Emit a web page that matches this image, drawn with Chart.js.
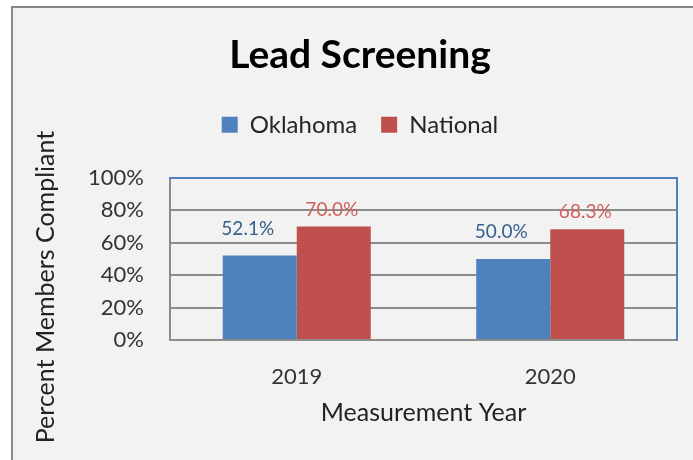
<!DOCTYPE html>
<html>
<head>
<meta charset="utf-8">
<script src="https://cdn.jsdelivr.net/npm/chart.js@4"></script>
<style>
  html, body { margin: 0; padding: 0; background: #fff; overflow: hidden; }
  #frame { position: absolute; left: 11px; top: 6px; width: 720px; height: 480px; border: 2px solid #898989; background: #f2f2f2; }
  #wrap { position: absolute; left: 0; top: 0; width: 693px; height: 460px; }
</style>
</head>
<body>
<div id="frame"></div>
<div id="wrap"><canvas id="leadChart"></canvas></div>
<script>
var years = ['2019', '2020'];
var oklahomaValues = [52.1, 50.0];
var nationalValues = [70.0, 68.3];
var yTicks = [0, 20, 40, 60, 80, 100];

var FONT = 'Lato, "Open Sans", sans-serif';

// value labels above bars, placed from the bar elements
var barLabels = {
  id: 'barLabels',
  afterDatasetsDraw: function(chart, args, opts) {
    var ctx = chart.ctx;
    ctx.save();
    ctx.font = '19px ' + FONT;
    ctx.textAlign = 'center';
    ctx.textBaseline = 'middle';
    chart.data.datasets.forEach(function(ds, i) {
      var meta = chart.getDatasetMeta(i);
      var st = opts.styles[i];
      ctx.fillStyle = st.color;
      meta.data.forEach(function(bar, j) {
        ctx.fillText(ds.data[j].toFixed(1) + '%', bar.x + st.dx, bar.y - st.dy);
      });
    });
    ctx.restore();
  }
};

// y axis title, centred lower than the plot like the original
var yTitle = {
  id: 'yTitle',
  afterDraw: function(chart, args, opts) {
    var ctx = chart.ctx;
    ctx.save();
    ctx.translate(opts.x, opts.y);
    ctx.rotate(-Math.PI / 2);
    ctx.font = '25px ' + FONT;
    ctx.fillStyle = '#222';
    ctx.textAlign = 'center';
    ctx.textBaseline = 'middle';
    ctx.fillText(opts.text, 0, 0);
    ctx.restore();
  }
};

new Chart(document.getElementById('leadChart').getContext('2d'), {
  type: 'bar',
  data: {
    labels: years,
    datasets: [
      { label: 'Oklahoma', data: oklahomaValues, backgroundColor: '#4f81bd', borderWidth: 0 },
      { label: 'National', data: nationalValues, backgroundColor: '#c0504d', borderWidth: 0 }
    ]
  },
  plugins: [barLabels, yTitle],
  options: {
    responsive: true,
    maintainAspectRatio: false,
    animation: false,
    categoryPercentage: 0.584,
    barPercentage: 1,
    layout: { padding: { left: 27, right: 0, top: 0, bottom: 0 } },
    plugins: {
      title: {
        display: true,
        text: 'Lead Screening',
        color: '#000',
        font: { family: FONT, size: 39, weight: 'bold' },
        padding: { top: 32, bottom: 10 }
      },
      legend: {
        display: true,
        position: 'top',
        labels: {
          color: '#262626',
          font: { family: FONT, size: 24 },
          boxWidth: 16,
          boxHeight: 16,
          padding: 24
        }
      },
      tooltip: { enabled: false },
      barLabels: {
        styles: [
          { color: '#36618f', dx: -12, dy: 27 },
          { color: '#d0605c', dx: -2, dy: 17 }
        ]
      },
      yTitle: { text: 'Percent Members Compliant', x: 46, y: 287 }
    },
    scales: {
      x: {
        type: 'category',
        position: 'bottom',
        grid: { display: false, drawTicks: false },
        border: { display: true, color: '#8c8c8c', width: 2 },
        ticks: { color: '#333', font: { family: FONT, size: 22 }, padding: 24 },
        title: {
          display: true,
          text: 'Measurement Year',
          color: '#222',
          font: { family: FONT, size: 25 },
          padding: { top: 0, bottom: 32 }
        },
        afterFit: function(scale) { scale.height = 120; }
      },
      y: {
        type: 'linear',
        position: 'left',
        min: 0,
        max: 100,
        afterBuildTicks: function(scale) {
          scale.ticks = yTicks.map(function(v) { return { value: v }; });
        },
        grid: { color: '#8c8c8c', lineWidth: 2, drawTicks: false },
        border: { display: true, color: '#8c8c8c', width: 2 },
        ticks: {
          color: '#333',
          font: { family: FONT, size: 22 },
          padding: 26,
          callback: function(v) { return v + '%'; }
        },
        afterFit: function(scale) { scale.width = 143; }
      },
      xTop: {
        type: 'category',
        position: 'top',
        z: 1,
        grid: { display: false, drawTicks: false },
        border: { display: true, color: '#4f81bd', width: 2 },
        ticks: { display: false },
        afterFit: function(scale) { scale.height = 31; }
      },
      yRight: {
        type: 'linear',
        position: 'right',
        min: 0,
        max: 100,
        z: 1,
        grid: { display: false, drawTicks: false },
        border: { display: true, color: '#4f81bd', width: 2 },
        ticks: { display: false },
        afterFit: function(scale) { scale.width = 16; }
      }
    }
  }
});
</script>
</body>
</html>
